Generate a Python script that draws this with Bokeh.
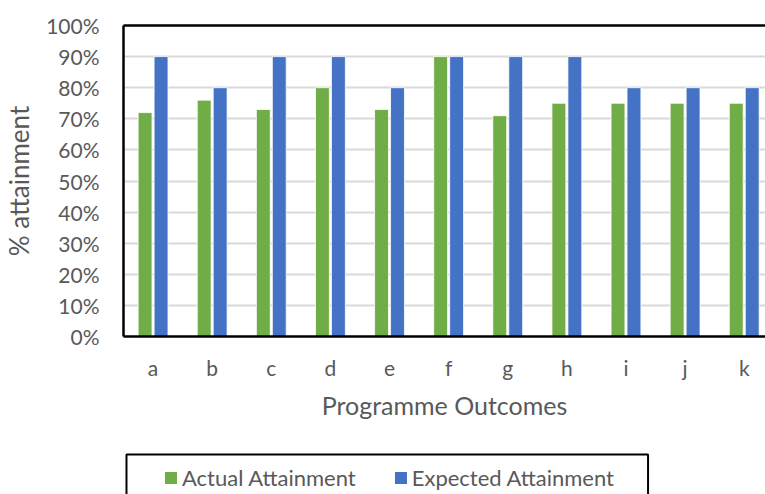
from bokeh.plotting import figure
from bokeh.layouts import column
from bokeh.models import (ColumnDataSource, Legend, LegendItem, LinearAxis, NumeralTickFormatter,
                          FixedTicker, Range1d, BoxAnnotation)
from bokeh.transform import dodge
from bokeh.embed import file_html
from bokeh.resources import INLINE

categories = ["a", "b", "c", "d", "e", "f", "g", "h", "i", "j", "k"]
actual = [0.72, 0.76, 0.73, 0.80, 0.73, 0.90, 0.71, 0.75, 0.75, 0.75, 0.75]
expected = [0.90, 0.80, 0.90, 0.90, 0.80, 0.90, 0.90, 0.90, 0.80, 0.80, 0.80]
y_ticks = [0.0, 0.1, 0.2, 0.3, 0.4, 0.5, 0.6, 0.7, 0.8, 0.9, 1.0]
series_names = ["Actual Attainment", "Expected Attainment"]
series_colors = ["#70AD47", "#4472C4"]

xpos = [i + 0.5 for i in range(len(categories))]
src = ColumnDataSource(dict(x=xpos, cat=categories, actual=actual, expected=expected))

FONT = "Lato"
GREY = "#595959"

p = figure(width=765, height=440, x_range=Range1d(0, 10.86),
           y_range=Range1d(0, 1.0), output_backend="svg", toolbar_location=None,
           min_border_left=120, min_border_top=25, min_border_bottom=104, min_border_right=0)

p.vbar(x=dodge("x", -0.135), top="actual", width=0.235, source=src,
       fill_color=series_colors[0], line_color="white", line_width=0.8)
p.vbar(x=dodge("x", 0.135), top="expected", width=0.235, source=src,
       fill_color=series_colors[1], line_color="white", line_width=0.8)

p.outline_line_color = None
p.xgrid.grid_line_color = None
p.ygrid.grid_line_color = "#d9d9d9"
p.ygrid.grid_line_width = 2
p.yaxis.ticker = FixedTicker(ticks=y_ticks)
p.yaxis.formatter = NumeralTickFormatter(format="0%")
p.xaxis.ticker = FixedTicker(ticks=xpos)
p.xaxis.major_label_overrides = {x: c for x, c in zip(xpos, categories)}

for ax in (p.xaxis[0], p.yaxis[0]):
    ax.axis_line_color = "black"
    ax.axis_line_width = 2.5
    ax.major_tick_line_color = None
    ax.minor_tick_line_color = None
    ax.major_label_text_font = FONT
    ax.major_label_text_color = GREY
    ax.major_label_text_font_size = "21px"
    ax.axis_label_text_font = FONT
    ax.axis_label_text_color = GREY
    ax.axis_label_text_font_style = "normal"

p.yaxis.major_label_standoff = 18
p.yaxis.axis_label = "% attainment"
p.yaxis.axis_label_text_font_size = "26px"
p.yaxis.axis_label_standoff = 8
p.xaxis.axis_label = "Programme Outcomes"
p.xaxis.axis_label_text_font_size = "25px"
p.xaxis.major_label_standoff = 12
p.xaxis.axis_label_standoff = 7

top_ax = LinearAxis(axis_line_color="black", axis_line_width=2.5, major_tick_line_color=None,
                    minor_tick_line_color=None, major_label_text_font_size="0px")
top_ax.ticker = FixedTicker(ticks=[])
p.add_layout(top_ax, "above")

# legend strip (its frame is aligned with the chart frame: x 120..765)
q = figure(width=765, height=54, x_range=Range1d(120, 765), y_range=Range1d(0, 54),
           output_backend="svg", toolbar_location=None,
           min_border_left=120, min_border_right=0, min_border_top=0, min_border_bottom=0)
q.axis.visible = False
q.grid.visible = False
q.outline_line_color = None

dummy = ColumnDataSource(dict(x=[-100], top=[0]))
lr = [q.vbar(x="x", top="top", width=1, source=dummy, fill_color=c, line_color=None)
      for c in series_colors]

q.add_layout(BoxAnnotation(left=123, right=647, top=40, bottom=-10,
                           fill_alpha=0, line_color="black", line_alpha=1, line_width=2))

legend = Legend(items=[LegendItem(label=n, renderers=[r]) for n, r in zip(series_names, lr)],
                orientation="horizontal", location=(40, 3),
                label_text_font=FONT, label_text_color=GREY, label_text_font_size="22px",
                glyph_width=15, glyph_height=15, label_standoff=4, spacing=37,
                padding=0, margin=0, border_line_color=None,
                background_fill_alpha=0)
q.add_layout(legend, "center")

layout = column(p, q, spacing=0)
open("out.html", "w").write(file_html(layout, INLINE))
